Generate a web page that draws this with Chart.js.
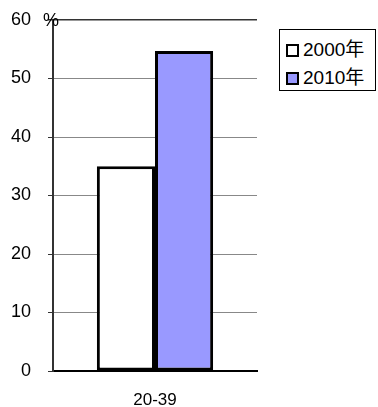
<!DOCTYPE html>
<html>
<head>
<meta charset="utf-8">
<script src="https://cdn.jsdelivr.net/npm/chart.js@4/dist/chart.umd.min.js"></script>
<style>
  html, body { margin: 0; padding: 0; background: #fff; }
  #wrap { position: relative; width: 378px; height: 407px; }
  #legend { position: absolute; left: 279px; top: 29px; width: 97px; height: 62px;
    border: 1px solid #000; box-sizing: border-box; background: #fff;
    font-family: "Liberation Sans", Arial, "Noto Sans CJK JP", sans-serif; font-size: 19px; color: #000; }
  .item { position: absolute; left: 6px; height: 20px; line-height: 20px; white-space: nowrap; }
  .sw { display: inline-block; width: 9px; height: 9px; border: 2px solid #000; vertical-align: -1px; margin-right: 4px; }
</style>
</head>
<body>
<div id="wrap">
  <canvas id="c" width="378" height="407"></canvas>
  <div id="legend"></div>
</div>
<script>
const categories = ["20-39"];
const seriesLabels = ["2000年", "2010年"];
const values2000 = [35.0];
const values2010 = [54.7];
const yTicks = [0, 10, 20, 30, 40, 50, 60];
const unitLabel = "%";
const fills = ["#FFFFFF", "#9999FF"];

const font = "'Liberation Sans', Arial, 'Noto Sans CJK JP', sans-serif";

const unitPlugin = {
  id: 'unit',
  afterDraw(chart) {
    const ctx = chart.ctx;
    const a = chart.chartArea;
    ctx.save();
    ctx.font = "18px " + font;
    ctx.fillStyle = "#000";
    ctx.textAlign = "center";
    ctx.textBaseline = "middle";
    ctx.fillText(unitLabel, a.left - 2, a.top + 1);
    ctx.restore();
  }
};

new Chart(document.getElementById('c'), {
  type: 'bar',
  data: {
    labels: categories,
    datasets: [
      { label: seriesLabels[0], data: values2000, backgroundColor: fills[0], borderColor: '#000', borderWidth: 3, borderSkipped: false },
      { label: seriesLabels[1], data: values2010, backgroundColor: fills[1], borderColor: '#000', borderWidth: 3, borderSkipped: false }
    ]
  },
  options: {
    responsive: false,
    animation: false,
    devicePixelRatio: 1,
    layout: { padding: { left: 0, right: 121, top: 20, bottom: 0 } },
    datasets: { bar: { barPercentage: 1, categoryPercentage: 0.57 } },
    plugins: { legend: { display: false }, tooltip: { enabled: false } },
    scales: {
      x: {
        grid: { display: true, color: 'rgba(0,0,0,0)', drawTicks: false },
        border: { display: true, color: '#000', width: 2 },
        ticks: { color: '#000', font: { size: 17, family: font }, padding: 19 },
        afterFit(s) { s.height = 36; s.paddingLeft = 0; s.paddingRight = 0; }
      },
      y: {
        min: 0, max: 60,
        afterBuildTicks(s) { s.ticks = yTicks.map(v => ({ value: v })); },
        grid: {
          color: (c) => (c.tick && c.tick.value === 60) ? '#333' : '#888',
          lineWidth: (c) => (c.tick && c.tick.value === 60) ? 1.5 : 1,
          tickLength: 5, tickColor: '#333'
        },
        border: { display: true, color: '#333', width: 2 },
        ticks: { color: '#000', font: { size: 18, family: font }, padding: 17 },
        afterFit(s) { s.width = 53; s.paddingTop = 0; s.paddingBottom = 0; }
      }
    }
  },
  plugins: [unitPlugin]
});

const lg = document.getElementById('legend');
seriesLabels.forEach((lab, i) => {
  const d = document.createElement('div');
  d.className = 'item';
  d.style.top = (i === 0 ? 10 : 38) + 'px';
  const sw = document.createElement('span');
  sw.className = 'sw';
  sw.style.background = fills[i];
  d.appendChild(sw);
  d.appendChild(document.createTextNode(lab));
  lg.appendChild(d);
});
</script>
</body>
</html>
